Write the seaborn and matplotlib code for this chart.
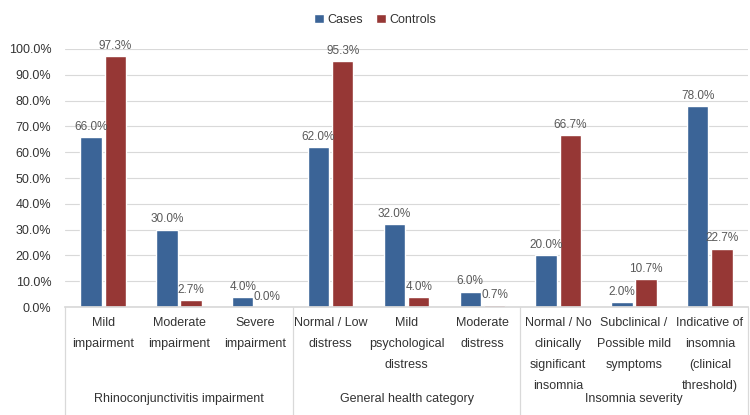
import pandas as pd
import matplotlib.pyplot as plt
import matplotlib.ticker as ticker
import seaborn as sns

categories = ['Mild\nimpairment', 'Moderate\nimpairment', 'Severe\nimpairment',
              'Normal / Low\ndistress', 'Mild\npsychological\ndistress', 'Moderate\ndistress',
              'Normal / No\nclinically\nsignificant\ninsomnia', 'Subclinical /\nPossible mild\nsymptoms',
              'Indicative of\ninsomnia\n(clinical\nthreshold)']
groups = ['Rhinoconjunctivitis impairment', 'General health category', 'Insomnia severity']
cases = [66.0, 30.0, 4.0, 62.0, 32.0, 6.0, 20.0, 2.0, 78.0]
controls = [97.3, 2.7, 0.0, 95.3, 4.0, 0.7, 66.7, 10.7, 22.7]

df = pd.DataFrame({'category': categories * 2,
                   'value': cases + controls,
                   'series': ['Cases'] * len(cases) + ['Controls'] * len(controls)})

sns.set_theme(style='white')
plt.rcParams['font.family'] = ['Liberation Sans', 'DejaVu Sans']

fig = plt.figure(figsize=(7.5, 4.15), dpi=100)
ax = fig.add_axes([0.087, 0.26, 0.91, 0.622])
sns.barplot(ax=ax, data=df, x='category', y='value', hue='series', order=categories,
            palette={'Cases': '#3B6497', 'Controls': '#963735'}, width=0.64, gap=0.12,
            saturation=1, errorbar=None, legend=True)

for c in ax.containers:
    ax.bar_label(c, fmt='%.1f%%', padding=3, fontsize=8.5, color='#595959')

ax.set_ylim(0, 100)
ax.set_xlim(-0.5, len(categories) - 0.5)
ax.yaxis.set_major_locator(ticker.MultipleLocator(10))
ax.yaxis.set_major_formatter(ticker.FuncFormatter(lambda v, p: f'{v:.1f}%'))
ax.grid(axis='y', color='#D9D9D9', linewidth=0.8)
ax.set_axisbelow(True)
for s in ['top', 'right', 'left']:
    ax.spines[s].set_visible(False)
ax.spines['bottom'].set_color('#D9D9D9')
ax.tick_params(axis='y', labelsize=9, colors='#333333', length=0, pad=10)
ax.tick_params(axis='x', labelsize=9, colors='#333333', length=0, pad=7)
for lbl in ax.get_xticklabels():
    lbl.set_linespacing(2.0)
    lbl.set_verticalalignment('top')
ax.set_xlabel(None)
ax.set_ylabel(None)

# group separators and labels under the axis
trans = ax.get_xaxis_transform()
for b in [-0.5, 2.5, 5.5, 8.5]:
    ax.plot([b, b], [0, -0.42], transform=trans, color='#D9D9D9', lw=0.9, clip_on=False)
for i, g in enumerate(groups):
    ax.text(3 * i + 1, -0.355, g, transform=trans, ha='center', va='center',
            fontsize=9, color='#333333')

ax.legend_.remove()
h, l = ax.get_legend_handles_labels()
fig.legend(h, l, loc='center', bbox_to_anchor=(0.5, 0.952), ncol=2, frameon=False,
           fontsize=9, handlelength=0.8, handleheight=0.8, handletextpad=0.3, columnspacing=1.0,
           labelcolor='#333333')

fig.savefig('out.png', dpi=100)
